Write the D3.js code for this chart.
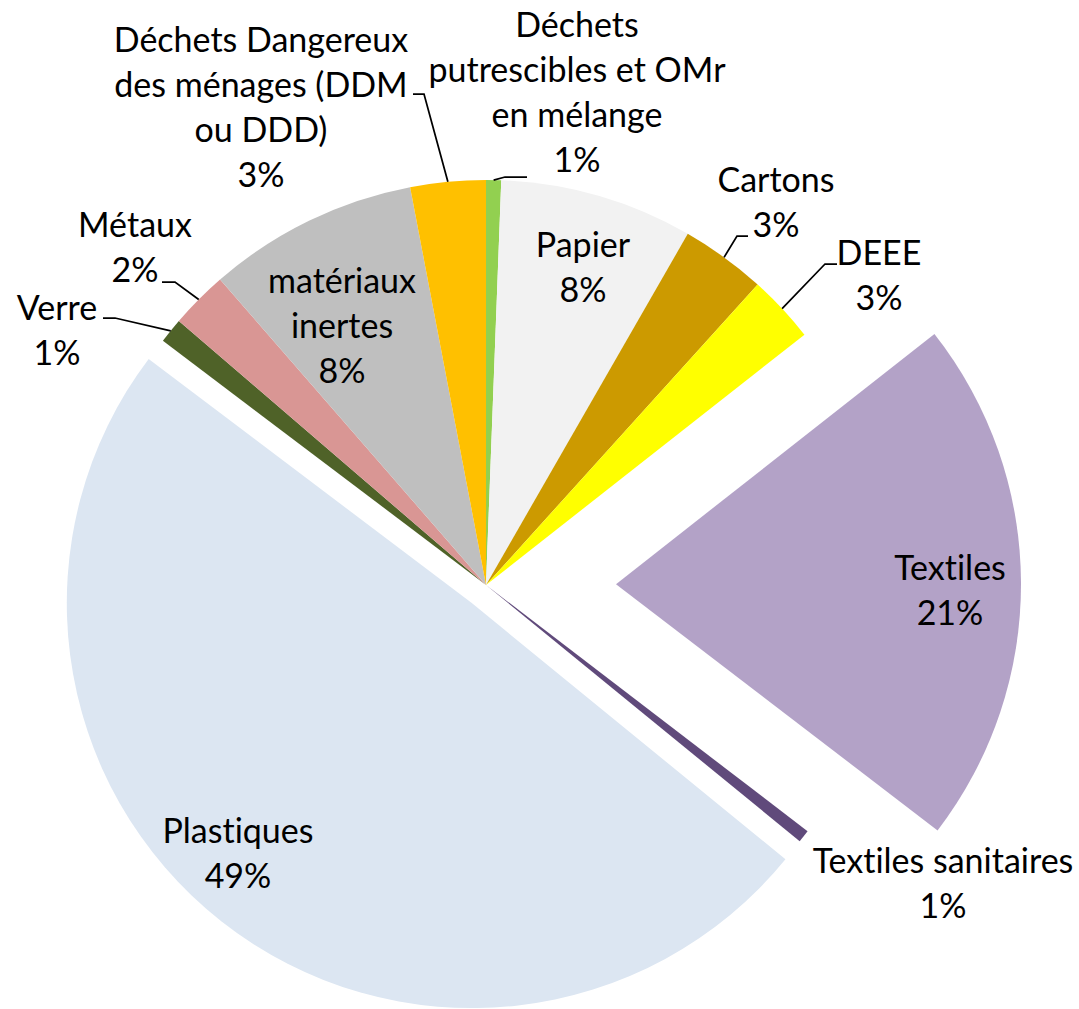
<!DOCTYPE html>
<html>
<head>
<meta charset="utf-8">
<script src="https://cdn.jsdelivr.net/npm/d3@7"></script>
<style>
  html, body { margin: 0; padding: 0; background: #ffffff; }
  svg { display: block; }
  text { font-family: Lato, "Open Sans", sans-serif; font-size: 34px; fill: #000;
         font-variant-ligatures: none; font-feature-settings: "liga" 0, "clig" 0; }
</style>
</head>
<body>
<svg id="chart" width="1079" height="1009"></svg>
<script>
// ---- data (percent shares, clockwise from 12 o'clock) ----
const categories = [
  "Déchets putrescibles et OMr en mélange",
  "Papier",
  "Cartons",
  "DEEE",
  "Textiles",
  "Textiles sanitaires",
  "Plastiques",
  "Verre",
  "Métaux",
  "matériaux inertes",
  "Déchets Dangereux des ménages (DDM ou DDD)"
];
const values = [0.6, 7.7, 3.4, 2.7, 21.0, 0.5, 49.4, 1.0, 2.3, 8.4, 3.0];

// label text lines (category part), percentage is computed from values
const labelLines = [
  ["Déchets", "putrescibles et OMr", "en mélange"],
  ["Papier"],
  ["Cartons"],
  ["DEEE"],
  ["Textiles"],
  ["Textiles sanitaires"],
  ["Plastiques"],
  ["Verre"],
  ["Métaux"],
  ["matériaux", "inertes"],
  ["Déchets Dangereux", "des ménages (DDM", "ou DDD)"]
];

// ---- style / layout ----
const colors = ["#92D050", "#F2F2F2", "#CC9A00", "#FFFF00", "#B3A2C7", "#604A7B",
                "#DCE6F2", "#4F6228", "#D99694", "#BFBFBF", "#FFC000"];
const explode = [0, 0, 0, 0, 130, 0, 23, 0, 0, 0, 0];   // px pull-out of slices
const cx = 486, cy = 585, R = 405, lineH = 45;

// label block: centre x and first baseline y; leader: elbow point + horizontal end
const labelLayout = [
  { x: 577, y: 37,  leader: [[505, 177], [527, 177]] },
  { x: 583, y: 257 },
  { x: 776, y: 192, leader: [[737, 236], [748, 236]] },
  { x: 879, y: 265, leader: [[825, 264], [837, 264]] },
  { x: 950, y: 580 },
  { x: 943, y: 873 },
  { x: 238, y: 843 },
  { x: 57,  y: 320, leader: [[115, 318], [103, 318]] },
  { x: 135, y: 237, leader: [[175, 282], [162, 282]] },
  { x: 342, y: 293 },
  { x: 261, y: 52,  leader: [[424, 94], [413, 94]] }
];

const total = d3.sum(values);
const data = categories.map((c, i) => ({ i, name: c, value: values[i] }));

const pie = d3.pie().sort(null).value(d => d.value).startAngle(0).endAngle(2 * Math.PI);
const arc = d3.arc().innerRadius(0).outerRadius(R);
const arcs = pie(data);

const svg = d3.select("#chart");
const g = svg.append("g").attr("transform", `translate(${cx},${cy})`);

function offsetOf(a) {
  const mid = (a.startAngle + a.endAngle) / 2;
  const e = explode[a.data.i];
  return [Math.sin(mid) * e, -Math.cos(mid) * e];
}

g.selectAll("path.slice")
  .data(arcs)
  .join("path")
  .attr("class", "slice")
  .attr("d", arc)
  .attr("fill", d => colors[d.data.i])
  .attr("transform", d => { const o = offsetOf(d); return `translate(${o[0]},${o[1]})`; });

// leader lines: from arc edge at mid-angle to elbow to end
const lines = svg.append("g");
arcs.forEach(a => {
  const L = labelLayout[a.data.i];
  if (!L.leader) return;
  const mid = (a.startAngle + a.endAngle) / 2;
  const o = offsetOf(a);
  const start = [cx + o[0] + Math.sin(mid) * R, cy + o[1] - Math.cos(mid) * R];
  const pts = [start].concat(L.leader);
  lines.append("path")
    .attr("d", d3.line()(pts))
    .attr("fill", "none")
    .attr("stroke", "#000")
    .attr("stroke-width", 1.75);
});

// labels
const labels = svg.append("g");
arcs.forEach(a => {
  const i = a.data.i;
  const L = labelLayout[i];
  const pct = Math.round(a.data.value / total * 100 + 1e-9) + "%";
  const txt = labels.append("text").attr("text-anchor", "middle");
  labelLines[i].concat([pct]).forEach((s, k) => {
    txt.append("tspan").attr("x", L.x).attr("y", L.y + k * lineH).text(s);
  });
});
</script>
</body>
</html>
